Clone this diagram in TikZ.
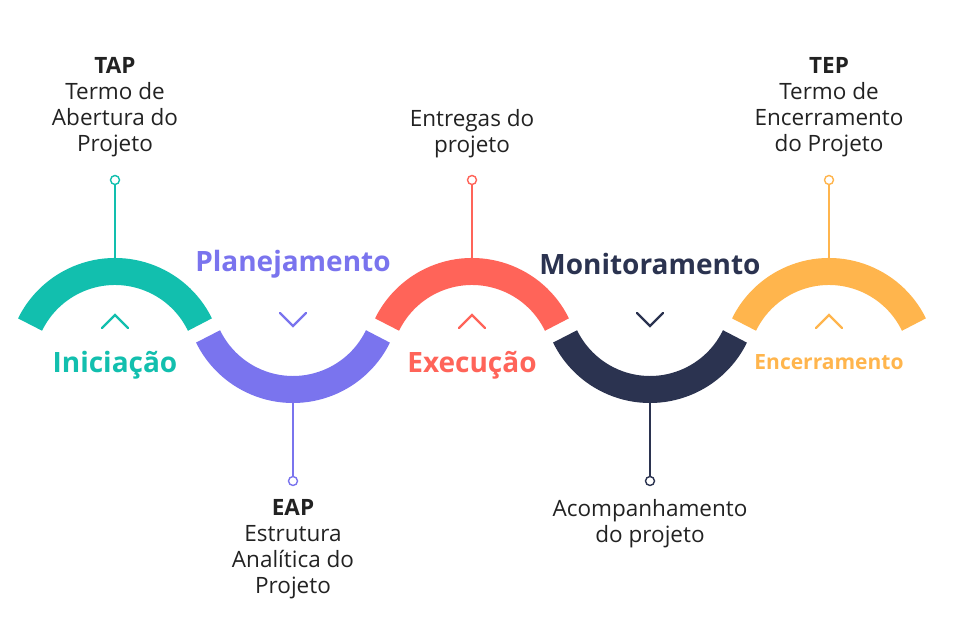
\documentclass[tikz,border=0pt]{standalone}
\usepackage{fontspec}
\setmainfont{Open Sans}
\definecolor{cteal}{HTML}{12BFAE}
\definecolor{cpurp}{HTML}{7A74EE}
\definecolor{cred}{HTML}{FF6459}
\definecolor{cnavy}{HTML}{2B3350}
\definecolor{corng}{HTML}{FFB54D}
\definecolor{ctext}{HTML}{222222}
\tikzset{
  band/.style={line width=27pt, line cap=butt},
  stem/.style={line width=1.6pt},
  dot/.style={circle, draw, line width=1.4pt, fill=white, minimum size=9pt, inner sep=0pt},
  chev/.style={line width=2.2pt, line cap=round, line join=miter},
  phase/.style={font=\fontsize{28}{30}\selectfont\bfseries},
  desc/.style={align=center, text=ctext, font=\fontsize{22.5}{26}\selectfont}
}
\begin{document}
\begin{tikzpicture}[x=1pt,y=1pt]
\useasboundingbox (0,0) rectangle (959,617);
\draw[band,cteal] (115,251) ++(26:94.5) arc (26:154:94.5);
\draw[band,cpurp] (293,322) ++(-26:94.5) arc (-26:-154:94.5);
\draw[band,cred] (472,251) ++(26:94.5) arc (26:154:94.5);
\draw[band,cnavy] (650,322) ++(-26:94.5) arc (-26:-154:94.5);
\draw[band,corng] (829,251) ++(26:94.5) arc (26:154:94.5);
\coordinate (t1) at (115,359);
\coordinate (t2) at (293,214);
\coordinate (t3) at (472,359);
\coordinate (t4) at (650,214);
\coordinate (t5) at (829,359);
\node[dot,draw=cteal] (d1) at (115,437) {};
\node[dot,draw=cpurp] (d2) at (293,136) {};
\node[dot,draw=cred] (d3) at (472,437) {};
\node[dot,draw=cnavy] (d4) at (650,136) {};
\node[dot,draw=corng] (d5) at (829,437) {};
\draw[stem,cteal] (d1) -- (t1);
\draw[stem,cpurp] (d2) -- (t2);
\draw[stem,cred] (d3) -- (t3);
\draw[stem,cnavy] (d4) -- (t4);
\draw[stem,corng] (d5) -- (t5);
\draw[chev,cteal] (102,289) -- (115,302) -- (128,289);
\draw[chev,cpurp] (280,304) -- (293,291) -- (306,304);
\draw[chev,cred] (459,289) -- (472,302) -- (485,289);
\draw[chev,cnavy] (637,304) -- (650,291) -- (663,304);
\draw[chev,corng] (816,289) -- (829,302) -- (842,289);
\node[phase,text=cteal] (l1) at (115,252) {Iniciação};
\node[phase,text=cpurp] (l2) at (293,353) {Planejamento};
\node[phase,text=cred] (l3) at (472,252) {Execução};
\node[phase,text=cnavy] (l4) at (650,353) {Monitoramento};
\node[phase,text=corng,font=\fontsize{21}{24}\selectfont\bfseries] (l5) at (829,255) {Encerramento};
\node[desc,anchor=north] (x1) at (115,563) {\textbf{TAP}\\Termo de\\Abertura do\\Projeto};
\node[desc,anchor=north] (x3) at (472,511) {Entregas do\\projeto};
\node[desc,anchor=north] (x5) at (829,563) {\textbf{TEP}\\Termo de\\Encerramento\\do Projeto};
\node[desc,anchor=north] (x2) at (293,121) {\textbf{EAP}\\Estrutura\\Analítica do\\Projeto};
\node[desc,anchor=north] (x4) at (650,121) {Acompanhamento\\do projeto};
\end{tikzpicture}
\end{document}
